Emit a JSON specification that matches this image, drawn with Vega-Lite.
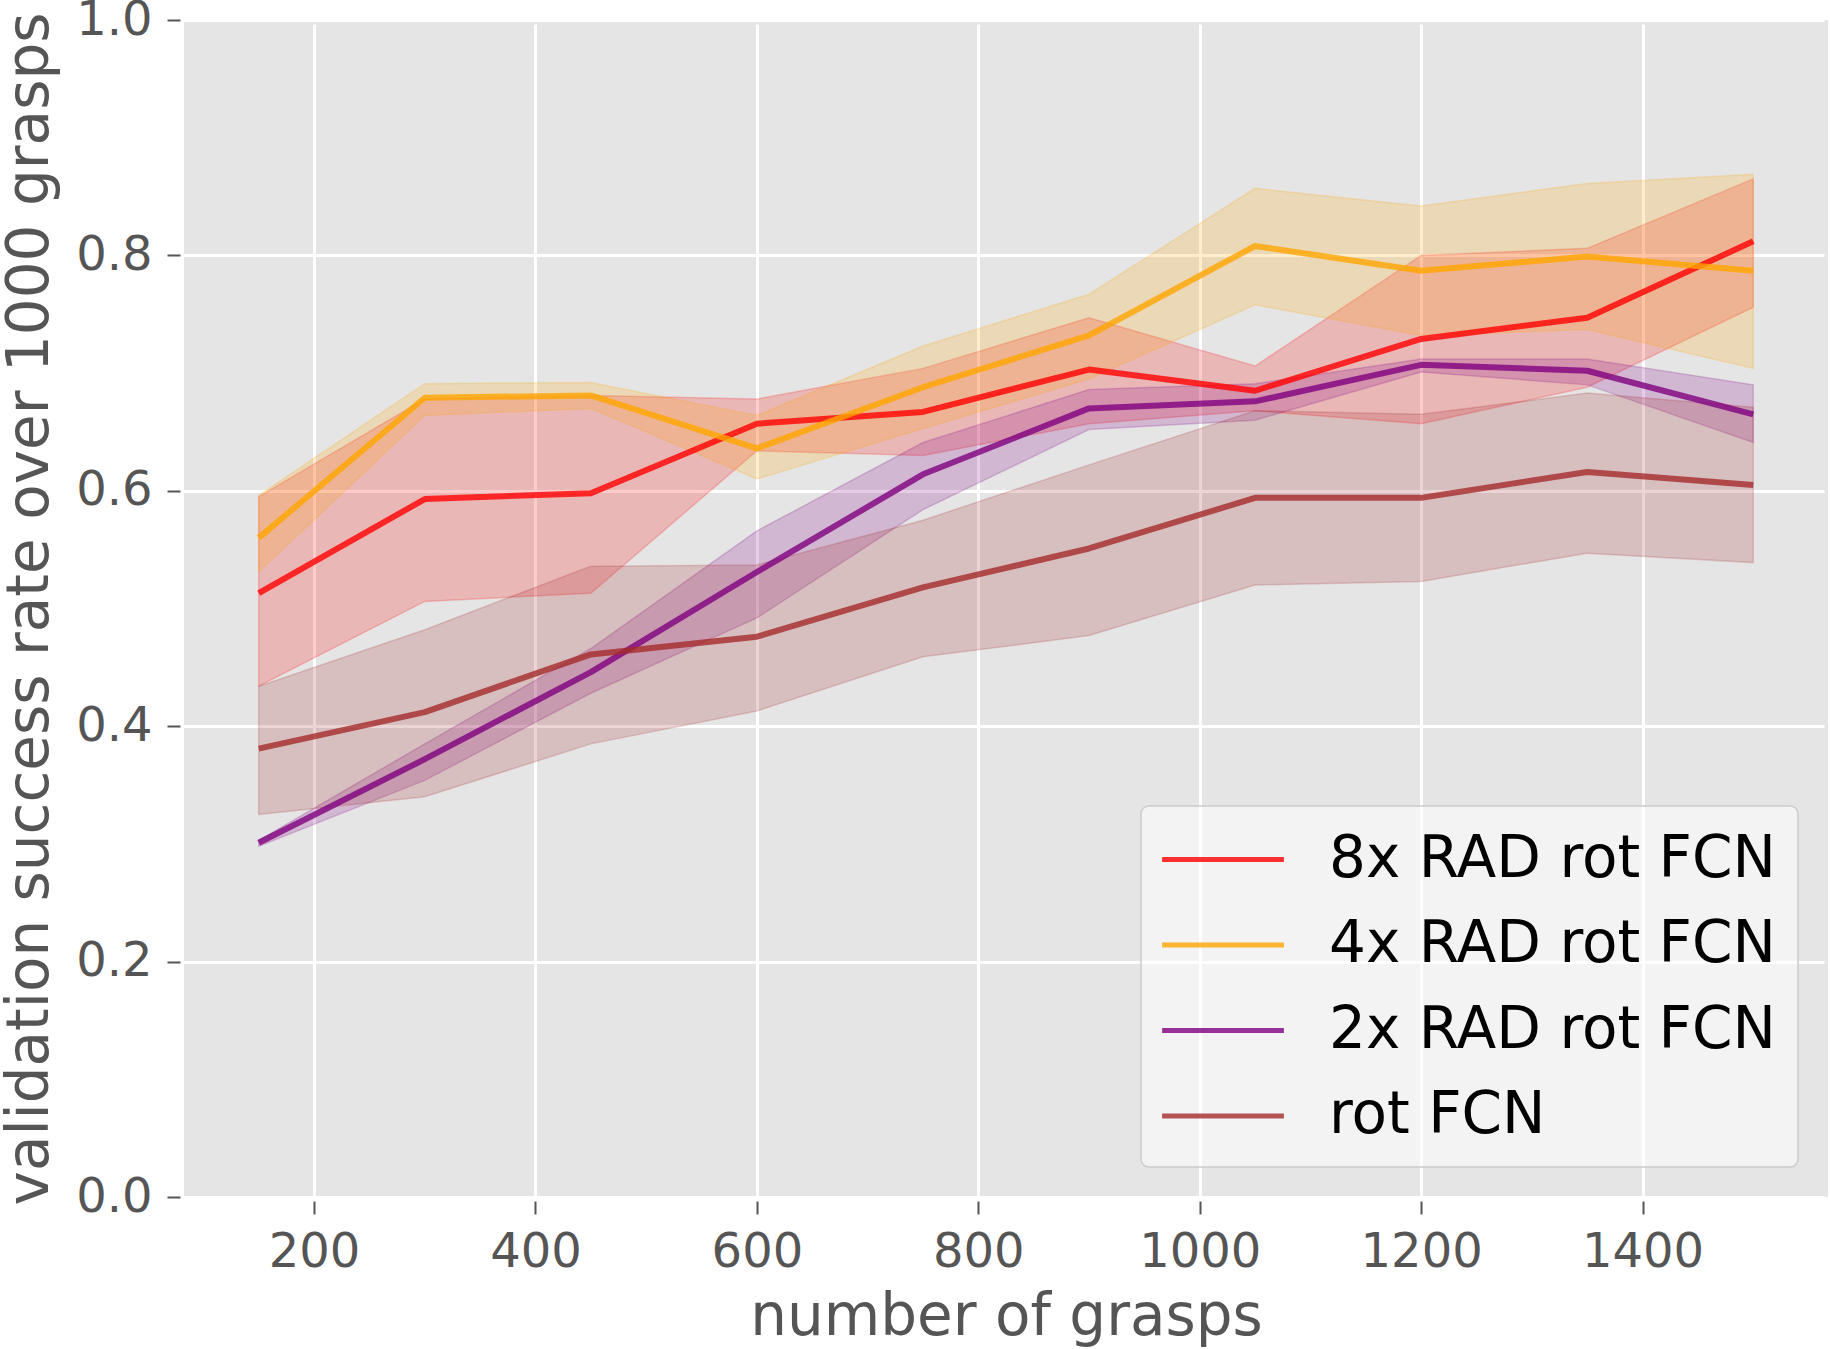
{
  "$schema": "https://vega.github.io/schema/vega-lite/v6.json",
  "width": 1644,
  "height": 1177,
  "autosize": {"type": "none"},
  "padding": {"top": 20, "left": 184, "right": 2, "bottom": 152},
  "background": "white",
  "config": {
    "view": {"fill": "#E5E5E5", "stroke": null},
    "font": "DejaVu Sans",
    "axis": {
      "domain": false,
      "offset": 4,
      "tickSize": 13,
      "tickWidth": 2,
      "tickColor": "#555555",
      "grid": true,
      "gridColor": "#ffffff",
      "gridWidth": 3,
      "labelFont": "DejaVu Sans",
      "labelFontSize": 48,
      "labelColor": "#555555",
      "titleFont": "DejaVu Sans",
      "titleFontSize": 58,
      "titleFontWeight": "normal",
      "titleColor": "#555555"
    },
    "legend": {
      "orient": "bottom-right",
      "offset": 30,
      "padding": 22,
      "fillColor": "rgba(255,255,255,0.55)",
      "strokeColor": "#cccccc",
      "strokeWidth": 1.5,
      "cornerRadius": 8,
      "labelFont": "DejaVu Sans",
      "labelFontSize": 58,
      "labelColor": "#000000",
      "labelLimit": 800,
      "symbolType": "M-2.1,0H2.1",
      "symbolSize": 3364,
      "symbolStrokeWidth": 5,
      "symbolOpacity": 0.8,
      "symbolOffset": 28.5,
      "labelOffset": 74.5,
      "rowPadding": 24.5
    }
  },
  "data": {
    "values": [
      {"m": "8x RAD rot FCN", "x": 150, "y": 0.513, "lo": 0.434, "hi": 0.595},
      {"m": "8x RAD rot FCN", "x": 300, "y": 0.593, "lo": 0.506, "hi": 0.678},
      {"m": "8x RAD rot FCN", "x": 450, "y": 0.598, "lo": 0.513, "hi": 0.681},
      {"m": "8x RAD rot FCN", "x": 600, "y": 0.657, "lo": 0.634, "hi": 0.678},
      {"m": "8x RAD rot FCN", "x": 750, "y": 0.667, "lo": 0.630, "hi": 0.704},
      {"m": "8x RAD rot FCN", "x": 900, "y": 0.703, "lo": 0.657, "hi": 0.747},
      {"m": "8x RAD rot FCN", "x": 1050, "y": 0.685, "lo": 0.668, "hi": 0.706},
      {"m": "8x RAD rot FCN", "x": 1200, "y": 0.729, "lo": 0.657, "hi": 0.800},
      {"m": "8x RAD rot FCN", "x": 1350, "y": 0.747, "lo": 0.688, "hi": 0.806},
      {"m": "8x RAD rot FCN", "x": 1500, "y": 0.812, "lo": 0.756, "hi": 0.865},
      {"m": "4x RAD rot FCN", "x": 150, "y": 0.560, "lo": 0.531, "hi": 0.596},
      {"m": "4x RAD rot FCN", "x": 300, "y": 0.679, "lo": 0.664, "hi": 0.691},
      {"m": "4x RAD rot FCN", "x": 450, "y": 0.681, "lo": 0.670, "hi": 0.692},
      {"m": "4x RAD rot FCN", "x": 600, "y": 0.636, "lo": 0.610, "hi": 0.664},
      {"m": "4x RAD rot FCN", "x": 750, "y": 0.688, "lo": 0.653, "hi": 0.723},
      {"m": "4x RAD rot FCN", "x": 900, "y": 0.732, "lo": 0.695, "hi": 0.767},
      {"m": "4x RAD rot FCN", "x": 1050, "y": 0.808, "lo": 0.758, "hi": 0.857},
      {"m": "4x RAD rot FCN", "x": 1200, "y": 0.787, "lo": 0.732, "hi": 0.842},
      {"m": "4x RAD rot FCN", "x": 1350, "y": 0.799, "lo": 0.737, "hi": 0.861},
      {"m": "4x RAD rot FCN", "x": 1500, "y": 0.787, "lo": 0.704, "hi": 0.869},
      {"m": "2x RAD rot FCN", "x": 150, "y": 0.301, "lo": 0.298, "hi": 0.303},
      {"m": "2x RAD rot FCN", "x": 300, "y": 0.372, "lo": 0.354, "hi": 0.385},
      {"m": "2x RAD rot FCN", "x": 450, "y": 0.446, "lo": 0.428, "hi": 0.466},
      {"m": "2x RAD rot FCN", "x": 600, "y": 0.531, "lo": 0.492, "hi": 0.566},
      {"m": "2x RAD rot FCN", "x": 750, "y": 0.614, "lo": 0.584, "hi": 0.641},
      {"m": "2x RAD rot FCN", "x": 900, "y": 0.670, "lo": 0.652, "hi": 0.686},
      {"m": "2x RAD rot FCN", "x": 1050, "y": 0.676, "lo": 0.660, "hi": 0.691},
      {"m": "2x RAD rot FCN", "x": 1200, "y": 0.707, "lo": 0.701, "hi": 0.712},
      {"m": "2x RAD rot FCN", "x": 1350, "y": 0.702, "lo": 0.690, "hi": 0.712},
      {"m": "2x RAD rot FCN", "x": 1500, "y": 0.665, "lo": 0.641, "hi": 0.690},
      {"m": "rot FCN", "x": 150, "y": 0.381, "lo": 0.325, "hi": 0.434},
      {"m": "rot FCN", "x": 300, "y": 0.412, "lo": 0.340, "hi": 0.482},
      {"m": "rot FCN", "x": 450, "y": 0.461, "lo": 0.385, "hi": 0.536},
      {"m": "rot FCN", "x": 600, "y": 0.476, "lo": 0.413, "hi": 0.537},
      {"m": "rot FCN", "x": 750, "y": 0.518, "lo": 0.459, "hi": 0.575},
      {"m": "rot FCN", "x": 900, "y": 0.551, "lo": 0.477, "hi": 0.622},
      {"m": "rot FCN", "x": 1050, "y": 0.594, "lo": 0.520, "hi": 0.668},
      {"m": "rot FCN", "x": 1200, "y": 0.594, "lo": 0.523, "hi": 0.665},
      {"m": "rot FCN", "x": 1350, "y": 0.616, "lo": 0.547, "hi": 0.683},
      {"m": "rot FCN", "x": 1500, "y": 0.605, "lo": 0.539, "hi": 0.671}
    ]
  },
  "encoding": {
    "x": {
      "field": "x",
      "type": "quantitative",
      "scale": {"domain": [82.5, 1567.5], "nice": false, "zero": false},
      "axis": {
        "values": [200, 400, 600, 800, 1000, 1200, 1400],
        "format": "d",
        "labelPadding": 14,
        "title": "number of grasps",
        "titlePadding": 12
      }
    }
  },
  "layer": [
    {
      "mark": {"type": "area", "fillOpacity": 0.2, "strokeOpacity": 0.2, "strokeWidth": 1.5},
      "encoding": {
        "y": {
          "field": "lo",
          "type": "quantitative",
          "scale": {"domain": [0, 1], "nice": false},
          "axis": {
            "values": [0, 0.2, 0.4, 0.6, 0.8, 1.0],
            "format": ".1f",
            "labelPadding": 15,
            "title": "validation success rate over 1000 grasps",
            "titlePadding": 16
          }
        },
        "y2": {"field": "hi"},
        "fill": {
          "field": "m",
          "type": "nominal",
          "scale": {
            "domain": ["8x RAD rot FCN", "4x RAD rot FCN", "2x RAD rot FCN", "rot FCN"],
            "range": ["#ff0000", "#ffa500", "#800080", "#a52a2a"]
          },
          "legend": null
        },
        "stroke": {
          "field": "m",
          "type": "nominal",
          "scale": {
            "domain": ["8x RAD rot FCN", "4x RAD rot FCN", "2x RAD rot FCN", "rot FCN"],
            "range": ["#ff0000", "#ffa500", "#800080", "#a52a2a"]
          },
          "legend": null
        }
      }
    },
    {
      "mark": {"type": "line", "strokeWidth": 6, "opacity": 0.8, "strokeJoin": "round"},
      "encoding": {
        "y": {"field": "y", "type": "quantitative"},
        "color": {
          "field": "m",
          "type": "nominal",
          "scale": {
            "domain": ["8x RAD rot FCN", "4x RAD rot FCN", "2x RAD rot FCN", "rot FCN"],
            "range": ["#ff0000", "#ffa500", "#800080", "#a52a2a"]
          },
          "legend": {"title": null}
        }
      }
    }
  ],
  "resolve": {"scale": {"color": "independent", "fill": "independent", "stroke": "independent"}}
}
